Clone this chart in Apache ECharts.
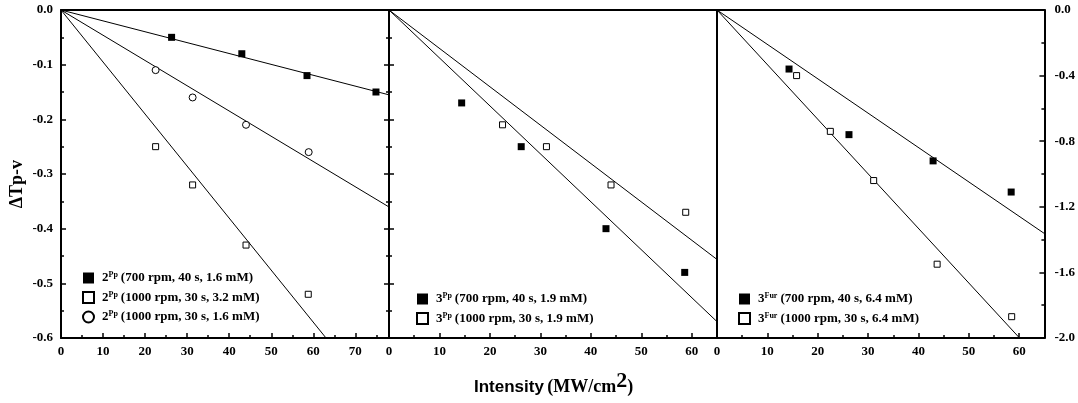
<!DOCTYPE html>
<html>
<head>
<meta charset="utf-8">
<script src="https://cdn.jsdelivr.net/npm/echarts@6/dist/echarts.min.js"></script>
<style>
html,body{margin:0;padding:0;background:#fff;}
#chart{width:1078px;height:403px;}
</style>
</head>
<body>
<div id="chart"></div>
<script>
// ---------- data ----------
// Panel 1 (2Pp)
const p1FilledX = [26.3, 43.0, 58.5, 74.9];
const p1FilledY = [-0.05, -0.08, -0.12, -0.15];
const p1OpenSqX = [22.5, 31.3, 44.0, 58.8];
const p1OpenSqY = [-0.25, -0.32, -0.43, -0.52];
const p1CircleX = [22.5, 31.3, 44.0, 58.9];
const p1CircleY = [-0.11, -0.16, -0.21, -0.26];
const p1Slopes = [-0.00199, -0.00952, -0.00462]; // filled, open square, circle
// Panel 2 (3Pp)
const p2FilledX = [14.4, 26.2, 43.0, 58.6];
const p2FilledY = [-0.17, -0.25, -0.40, -0.48];
const p2OpenX = [22.5, 31.2, 44.0, 58.8];
const p2OpenY = [-0.21, -0.25, -0.32, -0.37];
const p2Slopes = [-0.00877, -0.00702]; // filled, open
// Panel 3 (3Fur)
const p3FilledX = [14.3, 26.2, 42.9, 58.4];
const p3FilledY = [-0.36, -0.76, -0.92, -1.11];
const p3OpenX = [15.8, 22.5, 31.1, 43.7, 58.5];
const p3OpenY = [-0.40, -0.74, -1.04, -1.55, -1.87];
const p3Slopes = [-0.02097, -0.0333]; // filled, open

const xMax = [78, 65, 65];
const leftYRange = [-0.6, 0];
const rightYRange = [-2.0, 0];

const legend1 = ['2Pp (700 rpm, 40 s, 1.6 mM)', '2Pp (1000 rpm, 30 s, 3.2 mM)', '2Pp (1000 rpm, 30 s, 1.6 mM)'];
const legend2 = ['3Pp (700 rpm, 40 s, 1.9 mM)', '3Pp (1000 rpm, 30 s, 1.9 mM)'];
const legend3 = ['3Fur (700 rpm, 40 s, 6.4 mM)', '3Fur (1000 rpm, 30 s, 6.4 mM)'];

// ---------- helpers ----------
const SERIF = '"Liberation Serif","Times New Roman",serif';
const SANS = '"Liberation Sans",Arial,sans-serif';
const zip = (xs, ys) => xs.map((x, i) => [x, ys[i]]);
const fitLine = (slope, xEnd) => [[0, 0], [xEnd, slope * xEnd]];

const grids = [
  {left: 61, top: 10, width: 328, height: 328},
  {left: 389, top: 10, width: 328, height: 328},
  {left: 717, top: 10, width: 328, height: 328}
];

const lineStyleAxis = {color: '#000', width: 2};
const labelStyle = {color: '#000', fontFamily: SERIF, fontWeight: 'bold', fontSize: 13};

function bottomX(gi, max) {
  return {
    type: 'value', gridIndex: gi, position: 'bottom', min: 0, max: max, interval: 10,
    axisLine: {show: true, onZero: false, lineStyle: lineStyleAxis},
    axisTick: {show: true, inside: true, length: 5, lineStyle: {color: '#000', width: 1.5}},
    minorTick: {show: true, splitNumber: 2, length: 3, lineStyle: {color: '#000', width: 1.5}},
    axisLabel: Object.assign({margin: 7, showMaxLabel: false}, labelStyle),
    splitLine: {show: false}
  };
}
function topX(gi, max) {
  return {
    type: 'value', gridIndex: gi, position: 'top', min: 0, max: max,
    axisLine: {show: true, onZero: false, lineStyle: lineStyleAxis},
    axisTick: {show: false}, axisLabel: {show: false}, splitLine: {show: false}
  };
}
function yAx(gi, pos, range, interval, opts) {
  return {
    type: 'value', gridIndex: gi, position: pos, min: range[0], max: range[1], interval: interval,
    axisLine: {show: true, onZero: false, lineStyle: lineStyleAxis},
    axisTick: {show: !!opts.ticks, inside: true, length: 5, lineStyle: {color: '#000', width: 1.5}},
    minorTick: {show: !!opts.ticks, splitNumber: 2, length: 3, lineStyle: {color: '#000', width: 1.5}},
    axisLabel: Object.assign({show: !!opts.labels, margin: opts.margin || 8,
      formatter: v => (Math.abs(v) < 1e-9 ? 0 : v).toFixed(1)}, labelStyle),
    splitLine: {show: false}
  };
}

const filledStyle = {color: '#000', opacity: 1};
const openStyle = {color: '#fff', borderColor: '#000', borderWidth: 1, opacity: 1};

function scatter(name, xi, yi, data, symbol, style, size) {
  return {
    type: 'scatter', name: name, xAxisIndex: xi, yAxisIndex: yi, data: data,
    symbol: symbol, symbolSize: size, itemStyle: style, z: 5, silent: true
  };
}
function fit(xi, yi, data) {
  return {
    type: 'line', xAxisIndex: xi, yAxisIndex: yi, data: data, symbol: 'none',
    lineStyle: {color: '#000', width: 1}, clip: true, z: 3, silent: true
  };
}

const rich = {
  n: {fontFamily: SERIF, fontWeight: 'bold', fontSize: 13, color: '#000', padding: [0, 0, 0, 3]},
  s: {fontFamily: SERIF, fontWeight: 'bold', fontSize: 8, color: '#000', verticalAlign: 'top', padding: [0, 0, 6, 0]},
  t: {fontFamily: SERIF, fontWeight: 'bold', fontSize: 13, color: '#000', padding: [0, 0, 0, 3]}
};
function fmtLegend(name) {
  const m = name.match(/^(\d)(\w+) (.*)$/);
  return '{n|' + m[1] + '}{s|' + m[2] + '}{t|' + m[3] + '}';
}
function legend(left, top, names, icons) {
  return {
    orient: 'vertical', left: left, top: top, itemWidth: 11, itemHeight: 11, itemGap: 6,
    data: names.map((n, i) => ({name: n, icon: icons[i]})),
    formatter: fmtLegend,
    textStyle: {rich: rich, fontFamily: SERIF, fontWeight: 'bold', fontSize: 13, color: '#000'},
    selectedMode: false
  };
}

const option = {
  backgroundColor: '#fff',
  animation: false,
  grid: grids,
  xAxis: [bottomX(0, xMax[0]), topX(0, xMax[0]), bottomX(1, xMax[1]), topX(1, xMax[1]), bottomX(2, xMax[2]), topX(2, xMax[2])],
  yAxis: [
    yAx(0, 'left', leftYRange, 0.1, {ticks: true, labels: true, margin: 8}),
    yAx(0, 'right', leftYRange, 0.1, {ticks: true}),
    yAx(1, 'left', leftYRange, 0.1, {ticks: true}),
    yAx(1, 'right', leftYRange, 0.1, {}),
    yAx(2, 'left', rightYRange, 0.4, {}),
    yAx(2, 'right', rightYRange, 0.4, {ticks: true, labels: true, margin: 10})
  ],
  legend: [
    legend(77, 266, legend1, ['rect', 'rect', 'circle']),
    legend(411, 287, legend2, ['rect', 'rect']),
    legend(733, 287, legend3, ['rect', 'rect'])
  ],
  graphic: [
    {type: 'text', left: 8, top: 160, rotation: Math.PI / 2,
     style: {text: 'ΔTp-v', font: 'bold 18px ' + SERIF, fill: '#000'}},
    {type: 'text', left: 474, top: 370,
     style: {text: '{a|Intensity} {b|(MW/cm}{c|2}{b|)}',
       rich: {
         a: {fontFamily: SANS, fontWeight: 'bold', fontSize: 17, fill: '#000'},
         b: {fontFamily: SERIF, fontWeight: 'bold', fontSize: 18, fill: '#000'},
         c: {fontFamily: SERIF, fontWeight: 'bold', fontSize: 22, fill: '#000', padding: [0, 0, 12, 0]}
       }}}
  ],
  series: [
    fit(0, 0, fitLine(p1Slopes[0], xMax[0])),
    fit(0, 0, fitLine(p1Slopes[1], xMax[0])),
    fit(0, 0, fitLine(p1Slopes[2], xMax[0])),
    scatter(legend1[0], 0, 0, zip(p1FilledX, p1FilledY), 'rect', filledStyle, 7),
    scatter(legend1[1], 0, 0, zip(p1OpenSqX, p1OpenSqY), 'rect', openStyle, 6),
    scatter(legend1[2], 0, 0, zip(p1CircleX, p1CircleY), 'circle', openStyle, 7),

    fit(2, 2, fitLine(p2Slopes[0], xMax[1])),
    fit(2, 2, fitLine(p2Slopes[1], xMax[1])),
    scatter(legend2[0], 2, 2, zip(p2FilledX, p2FilledY), 'rect', filledStyle, 7),
    scatter(legend2[1], 2, 2, zip(p2OpenX, p2OpenY), 'rect', openStyle, 6),

    fit(4, 5, fitLine(p3Slopes[0], xMax[2])),
    fit(4, 5, fitLine(p3Slopes[1], xMax[2])),
    scatter(legend3[0], 4, 5, zip(p3FilledX, p3FilledY), 'rect', filledStyle, 7),
    scatter(legend3[1], 4, 5, zip(p3OpenX, p3OpenY), 'rect', openStyle, 6)
  ]
};

const chart = echarts.init(document.getElementById('chart'), null, {renderer: 'canvas'});
chart.setOption(option);
</script>
</body>
</html>
